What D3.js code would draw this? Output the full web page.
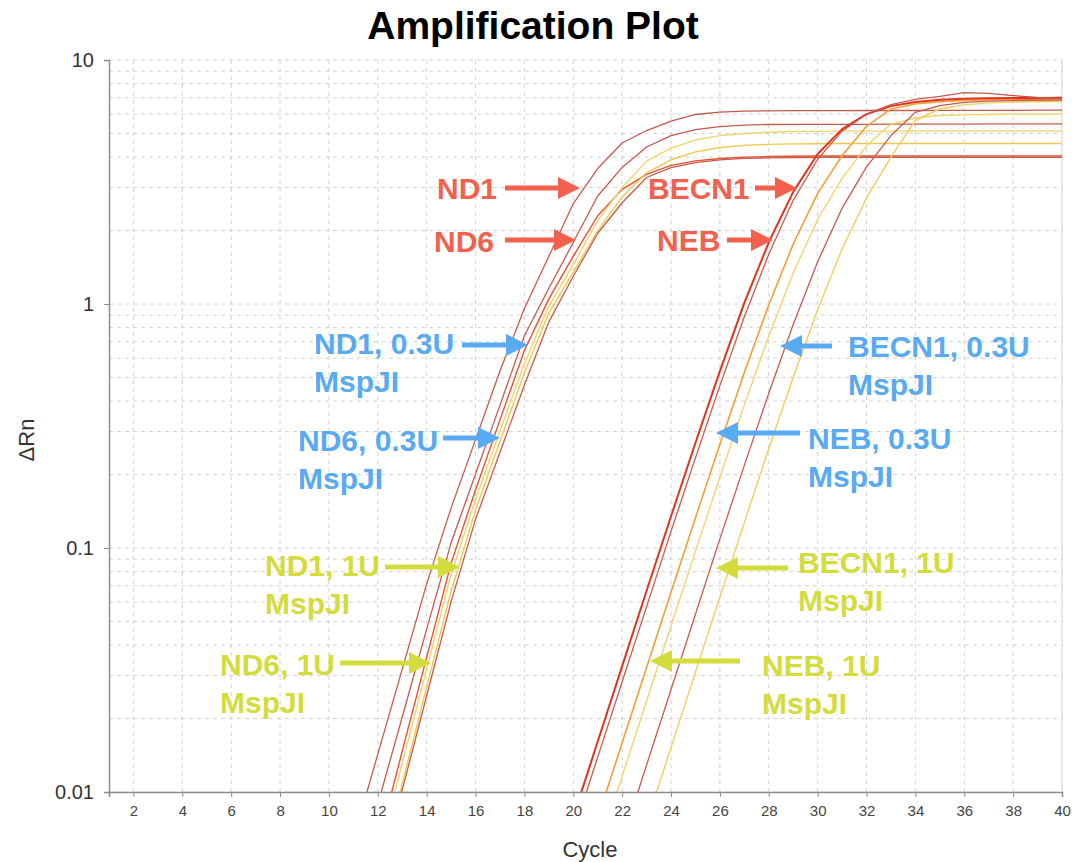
<!DOCTYPE html>
<html lang="en">
<head>
  <meta charset="UTF-8" />
  <title>Amplification Plot</title>
  <script src="https://d3js.org/d3.v7.min.js"></script>
  <style>
    body { margin: 0; background: #fff; }
    svg { display: block; font-family: "Liberation Sans", Arial, sans-serif; }
  </style>
</head>
<body>
  <svg id="chart" width="1072" height="862"></svg>

  <script>
    // one value per cycle, from the trace's first cycle up to 40
    const nd1 = [0.0028, 0.0064, 0.0143, 0.0319, 0.0713, 0.146, 0.278, 0.531, 0.959, 1.57, 2.58, 3.59, 4.57, 5.14, 5.62, 5.98, 6.12, 6.17, 6.19, 6.20, 6.20,
                 6.20, 6.21, 6.21, 6.21, 6.22, 6.22, 6.22, 6.22, 6.23, 6.23];
    const nd1b = [0.0039, 0.0089, 0.0203, 0.0465, 0.105, 0.201, 0.385, 0.741, 1.16, 1.79, 2.77, 3.63, 4.40, 4.90, 5.18, 5.33, 5.41, 5.44, 5.45, 5.45,
                  5.45, 5.45, 5.46, 5.46, 5.46, 5.46, 5.47, 5.47, 5.47, 5.47];
    const nd6 = [0.0025, 0.0060, 0.0147, 0.0356, 0.0867, 0.173, 0.335, 0.645, 1.05, 1.57, 2.30, 2.95, 3.40, 3.70, 3.86, 3.95, 4.00, 4.02, 4.03, 4.04,
                 4.04, 4.04, 4.04, 4.04, 4.04, 4.04, 4.04, 4.04, 4.04, 4.04];
    const nd1c = [0.0022, 0.0053, 0.0131, 0.0319, 0.0778, 0.158, 0.301, 0.570, 0.98, 1.45, 2.20, 3.00, 3.85, 4.35, 4.70, 4.90, 5.00, 5.06, 5.09, 5.10,
                  5.11, 5.11, 5.11, 5.11, 5.11, 5.11, 5.11, 5.11, 5.11, 5.11];
    const nd6c = [0.0018, 0.0044, 0.0108, 0.0269, 0.0665, 0.143, 0.274, 0.523, 0.92, 1.35, 2.00, 2.75, 3.45, 3.90, 4.20, 4.38, 4.47, 4.51, 4.53, 4.54,
                  4.55, 4.55, 4.55, 4.55, 4.55, 4.55, 4.55, 4.55, 4.55, 4.55];
    const nd6b = [0.0017, 0.0042, 0.0102, 0.0248, 0.0603, 0.131, 0.247, 0.466, 0.845, 1.30, 1.95, 2.60, 3.30, 3.62, 3.80, 3.90, 3.95, 3.97, 3.98, 3.99,
                  3.99, 3.99, 3.99, 3.99, 3.99, 3.99, 3.99, 3.99, 3.99, 3.99];

    const becn1 = [0.0039, 0.0079, 0.0161, 0.0328, 0.0668, 0.135, 0.270, 0.531, 1.01, 1.79, 2.88, 4.12, 5.21, 6.00, 6.47, 6.73, 6.87, 6.93, 6.97, 6.98, 6.99, 7.00];
    const neb = [0.0033, 0.0068, 0.0139, 0.0283, 0.0575, 0.117, 0.234, 0.463, 0.886, 1.60, 2.66, 3.92, 5.11, 6.00, 6.56, 6.90, 7.10, 7.35, 7.30, 7.15, 7.02, 6.95];
    const nebb = [0.0038, 0.0078, 0.0159, 0.0324, 0.0658, 0.133, 0.266, 0.524, 0.991, 1.76, 2.84, 4.06, 5.35, 6.30, 6.60, 6.75, 6.83, 6.87, 6.88, 6.89, 6.90];
    const nebc = [0.0028, 0.0057, 0.0116, 0.0236, 0.0479, 0.0971, 0.195, 0.386, 0.738, 1.34, 2.22, 3.27, 4.45, 5.45, 5.80, 5.92, 5.96, 5.98, 6.00, 6.00, 6.01];
    const becn1b = [0.0031, 0.0063, 0.0129, 0.0263, 0.0535, 0.109, 0.218, 0.431, 0.824, 1.49, 2.47, 3.65, 4.90, 6.10, 6.50, 6.70, 6.78, 6.82, 6.84, 6.85];
    const becn1c = [0.0037, 0.0075, 0.0152, 0.0310, 0.0630, 0.127, 0.255, 0.501, 0.948, 1.68, 2.72, 4.00, 5.65, 6.30, 6.55, 6.67, 6.72, 6.74, 6.75];

    const traces = [
      { values: nd1,    start: 10, color: '#c65a4c', width: 1.3 },
      { values: nd1b,   start: 11, color: '#c65a4c', width: 1.3 },
      { values: nd6,    start: 11, color: '#e8502e', width: 1.4 },
      { values: nd1c,   start: 11, color: '#f1d46a', width: 1.4 },
      { values: nd6c,   start: 11, color: '#efc850', width: 1.4 },
      { values: nd6b,   start: 11, color: '#c65a4c', width: 1.3 },
      { values: nebc,   start: 20, color: '#f1d46a', width: 1.4 },
      { values: nebb,   start: 20, color: '#f0a034', width: 1.6 },
      { values: becn1c, start: 22, color: '#efcf5a', width: 1.4 },
      { values: becn1b, start: 21, color: '#c65a4c', width: 1.3 },
      { values: becn1,  start: 19, color: '#e3321c', width: 2 },
      { values: neb,    start: 19, color: '#c65a4c', width: 1.3 }
    ];

    const xTicks = [2, 4, 6, 8, 10, 12, 14, 16, 18, 20, 22, 24, 26, 28, 30, 32, 34, 36, 38, 40];
    const yTicks = [0.01, 0.1, 1, 10];
    const yTickLabels = ['0.01', '0.1', '1', '10'];

    const red = '#f2604e', blue = '#58aaf2', lime = '#d3dc3a';
    const notes = [
      { lines: ['ND1'], color: red, x: 437, y: 199, from: [505, 188], to: [580, 188] },
      { lines: ['ND6'], color: red, x: 434, y: 252, from: [505, 240], to: [576, 240] },
      { lines: ['BECN1'], color: red, x: 648, y: 199, from: [755, 188], to: [797, 188] },
      { lines: ['NEB'], color: red, x: 657, y: 251, from: [727, 240], to: [773, 240] },
      { lines: ['ND1, 0.3U', 'MspJI'], color: blue, x: 314, y: 354, from: [462, 345], to: [528, 345] },
      { lines: ['ND6, 0.3U', 'MspJI'], color: blue, x: 298, y: 451, from: [443, 438], to: [500, 438] },
      { lines: ['BECN1, 0.3U', 'MspJI'], color: blue, x: 848, y: 357, from: [832, 346], to: [780, 346] },
      { lines: ['NEB, 0.3U', 'MspJI'], color: blue, x: 808, y: 449, from: [800, 433], to: [716, 433] },
      { lines: ['ND1, 1U', 'MspJI'], color: lime, x: 265, y: 576, from: [385, 567], to: [460, 567] },
      { lines: ['ND6, 1U', 'MspJI'], color: lime, x: 220, y: 675, from: [340, 663], to: [431, 663] },
      { lines: ['BECN1, 1U', 'MspJI'], color: lime, x: 798, y: 573, from: [788, 568], to: [716, 568] },
      { lines: ['NEB, 1U', 'MspJI'], color: lime, x: 762, y: 676, from: [740, 661], to: [650, 661] }
    ];

    const svg = d3.select('#chart');
    const plot = { left: 109, right: 1062, top: 60, bottom: 792 };

    const x = d3.scaleLinear().domain([1, 40]).range([plot.left, plot.right]);
    const y = d3.scaleLog().domain([0.01, 10]).range([plot.bottom, plot.top]);

    // grid
    const minor = [];
    [0.01, 0.1, 1].forEach(d => { for (let i = 1; i <= 9; i++) minor.push(d * i); });
    minor.push(10);

    const grid = svg.append('g').attr('stroke', '#d2d2d2').attr('stroke-dasharray', '4,4');
    grid.selectAll('.h').data(minor).join('line').attr('class', 'h')
      .attr('x1', plot.left).attr('x2', plot.right)
      .attr('y1', d => y(d)).attr('y2', d => y(d));
    grid.selectAll('.v').data(xTicks.filter(d => d < 40)).join('line').attr('class', 'v')
      .attr('x1', d => x(d)).attr('x2', d => x(d))
      .attr('y1', plot.top).attr('y2', plot.bottom);

    svg.append('line').attr('x1', plot.right).attr('x2', plot.right).attr('y1', plot.top).attr('y2', plot.bottom)
      .attr('stroke', '#cfcfcf');

    // traces
    svg.append('clipPath').attr('id', 'plot-clip')
      .append('rect').attr('x', plot.left).attr('y', plot.top)
      .attr('width', plot.right - plot.left).attr('height', plot.bottom - plot.top);

    const line = d3.line()
      .x(d => x(d.c))
      .y(d => y(d.v));

    svg.append('g').attr('clip-path', 'url(#plot-clip)')
      .selectAll('path').data(traces).join('path')
      .attr('fill', 'none')
      .attr('stroke', d => d.color)
      .attr('stroke-width', d => d.width)
      .attr('stroke-linejoin', 'round')
      .attr('d', t => line(t.values.map((v, i) => ({ c: t.start + i, v }))));

    // axes
    const xAxis = svg.append('g').attr('transform', `translate(0,${plot.bottom})`)
      .call(d3.axisBottom(x).tickValues(xTicks).tickSize(5).tickPadding(8));
    xAxis.select('.domain').attr('stroke', '#8c8c8c').attr('stroke-width', 1.5);
    xAxis.selectAll('.tick line').attr('stroke', '#8c8c8c');
    xAxis.selectAll('text').attr('font-size', 15).attr('fill', '#444');

    const yAxis = svg.append('g').attr('transform', `translate(${plot.left},0)`)
      .call(d3.axisLeft(y).tickValues(yTicks).tickFormat((d, i) => yTickLabels[i]).tickSize(5).tickPadding(10));
    yAxis.select('.domain').attr('stroke', '#8c8c8c').attr('stroke-width', 1.5);
    yAxis.selectAll('.tick line').attr('stroke', '#8c8c8c');
    yAxis.selectAll('text').attr('font-size', 20).attr('fill', '#333');

    // titles
    svg.append('text').attr('x', 533).attr('y', 39).attr('text-anchor', 'middle')
      .attr('font-size', 39).attr('font-weight', 'bold').attr('fill', '#000')
      .text('Amplification Plot');
    svg.append('text').attr('x', 590).attr('y', 857).attr('text-anchor', 'middle')
      .attr('font-size', 22).attr('fill', '#333').text('Cycle');
    svg.append('text').attr('transform', 'translate(34,440) rotate(-90)').attr('text-anchor', 'middle')
      .attr('font-size', 22).attr('fill', '#333').text('ΔRn');

    // annotations
    const ann = svg.append('g');
    notes.forEach(n => {
      const t = ann.append('text').attr('font-size', 30).attr('font-weight', 'bold').attr('fill', n.color);
      n.lines.forEach((s, i) => t.append('tspan').attr('x', n.x).attr('y', n.y + i * 38).text(s));

      const [x0, y0] = n.from, [x1, y1] = n.to;
      const dir = Math.sign(x1 - x0), head = 22;
      ann.append('line')
        .attr('x1', x0).attr('y1', y0).attr('x2', x1 - dir * head).attr('y2', y1)
        .attr('stroke', n.color).attr('stroke-width', 5);
      ann.append('path')
        .attr('d', `M${x1},${y1}L${x1 - dir * head},${y1 - 11}L${x1 - dir * head},${y1 + 11}Z`)
        .attr('fill', n.color);
    });
  </script>
</body>
</html>
